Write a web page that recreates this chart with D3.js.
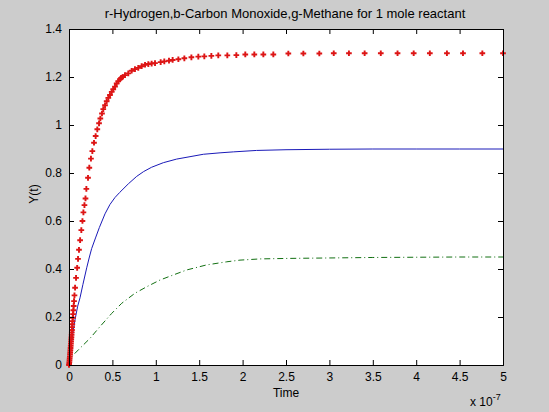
<!DOCTYPE html>
<html>
<head>
<meta charset="utf-8">
<script src="https://cdn.jsdelivr.net/npm/d3@7"></script>
<style>
  body { margin: 0; background: #cccccc; }
  svg text { font-family: "Liberation Sans", Arial, sans-serif; fill: #000; }
</style>
</head>
<body>
<div id="chart"></div>
<script>
// time in units of 1e-7
var hydrogenT = [0, 0.002, 0.004, 0.006, 0.008, 0.010, 0.012, 0.014, 0.016, 0.018, 0.020, 0.022, 0.024, 0.026, 0.028, 0.030, 0.032, 0.034, 0.036, 0.038, 0.041, 0.044, 0.047, 0.050, 0.054, 0.058, 0.063, 0.070, 0.081, 0.094, 0.104, 0.115, 0.128, 0.142, 0.155, 0.166, 0.178, 0.190, 0.200, 0.219, 0.234, 0.253, 0.269, 0.288, 0.307, 0.326, 0.346, 0.361, 0.380, 0.395, 0.415, 0.434, 0.453, 0.472, 0.492, 0.510, 0.530, 0.549, 0.568, 0.588, 0.600, 0.618, 0.645, 0.683, 0.722, 0.760, 0.798, 0.837, 0.876, 0.914, 0.952, 0.991, 1.056, 1.098, 1.152, 1.194, 1.260, 1.329, 1.410, 1.490, 1.559, 1.640, 1.720, 1.824, 1.928, 2.031, 2.135, 2.239, 2.354, 2.527, 2.700, 2.884, 3.050, 3.225, 3.406, 3.592, 3.785, 3.971, 4.157, 4.354, 4.539, 4.762, 5.000];
var hydrogenY = [0, 0.005, 0.012, 0.020, 0.028, 0.036, 0.045, 0.053, 0.062, 0.071, 0.080, 0.089, 0.098, 0.107, 0.116, 0.126, 0.136, 0.146, 0.158, 0.170, 0.183, 0.197, 0.212, 0.228, 0.246, 0.266, 0.290, 0.322, 0.363, 0.405, 0.442, 0.480, 0.520, 0.562, 0.600, 0.636, 0.666, 0.694, 0.734, 0.780, 0.822, 0.860, 0.891, 0.926, 0.954, 0.982, 1.007, 1.027, 1.048, 1.066, 1.082, 1.099, 1.113, 1.125, 1.138, 1.149, 1.160, 1.173, 1.183, 1.190, 1.196, 1.200, 1.208, 1.215, 1.226, 1.233, 1.238, 1.245, 1.251, 1.254, 1.256, 1.258, 1.262, 1.265, 1.268, 1.271, 1.274, 1.278, 1.282, 1.285, 1.286, 1.288, 1.290, 1.290, 1.291, 1.294, 1.294, 1.294, 1.294, 1.298, 1.298, 1.298, 1.299, 1.299, 1.299, 1.299, 1.299, 1.299, 1.299, 1.299, 1.299, 1.299, 1.299];

var coT = [0, 0.015, 0.031, 0.05, 0.069, 0.1, 0.127, 0.16, 0.204, 0.235, 0.261, 0.309, 0.35, 0.415, 0.472, 0.53, 0.584, 0.684, 0.78, 0.86, 0.952, 1.087, 1.24, 1.394, 1.548, 1.74, 1.893, 2.16, 2.5, 3.0, 3.5, 4.0, 4.5, 5.0];
var coY = [0, 0.045, 0.095, 0.145, 0.188, 0.245, 0.28, 0.335, 0.405, 0.45, 0.485, 0.533, 0.573, 0.630, 0.669, 0.698, 0.719, 0.755, 0.786, 0.806, 0.824, 0.843, 0.858, 0.868, 0.878, 0.884, 0.888, 0.894, 0.897, 0.899, 0.9, 0.9, 0.9, 0.9];

var methaneT = [0, 0.031, 0.127, 0.242, 0.357, 0.492, 0.607, 0.76, 0.895, 1.048, 1.2, 1.356, 1.585, 1.817, 1.97, 2.2, 2.5, 3.0, 3.5, 4.0, 4.5, 5.0];
var methaneY = [0, 0.035, 0.07, 0.111, 0.16, 0.215, 0.257, 0.299, 0.326, 0.354, 0.375, 0.396, 0.417, 0.43, 0.437, 0.442, 0.444, 0.446, 0.448, 0.449, 0.45, 0.45];

var xTicks = [0, 0.5, 1, 1.5, 2, 2.5, 3, 3.5, 4, 4.5, 5];
var yTicks = [0, 0.2, 0.4, 0.6, 0.8, 1, 1.2, 1.4];

var width = 549, height = 412;
var margin = {left: 69, right: 46, top: 29, bottom: 47};

var svg = d3.select("#chart").append("svg")
    .attr("width", width).attr("height", height);

svg.append("rect").attr("width", width).attr("height", height).attr("fill", "#cccccc");

var x = d3.scaleLinear().domain([0, 5]).range([margin.left, width - margin.right]);
var y = d3.scaleLinear().domain([0, 1.4]).range([height - margin.bottom, margin.top]);

svg.append("rect")
    .attr("x", x(0)).attr("y", y(1.4))
    .attr("width", x(5) - x(0)).attr("height", y(0) - y(1.4))
    .attr("fill", "#fff");

function zip(a, b) { return a.map(function(v, i) { return [v, b[i]]; }); }

var line = d3.line().x(function(d){ return x(d[0]); }).y(function(d){ return y(d[1]); });

svg.append("path").datum(zip(methaneT, methaneY))
    .attr("d", line).attr("fill", "none")
    .attr("stroke", "#127012").attr("stroke-width", 1)
    .attr("stroke-dasharray", "6,3,1,3");

svg.append("path").datum(zip(coT, coY))
    .attr("d", line).attr("fill", "none")
    .attr("stroke", "#1a1ab8").attr("stroke-width", 1);

var cross = d3.symbol().type(d3.symbolCross).size(18);
svg.selectAll(".h2").data(zip(hydrogenT, hydrogenY)).enter()
    .append("path").attr("class", "h2")
    .attr("transform", function(d){ return "translate(" + x(d[0]) + "," + y(d[1]) + ")"; })
    .attr("d", cross).attr("fill", "#dd1515");

// axes, ticks inward on all four sides (matlab box)
var noLabel = function() { return ""; };
var axBottom = d3.axisBottom(x).tickValues(xTicks).tickSize(-5).tickPadding(7)
    .tickFormat(d3.format("~g"));
var axLeft = d3.axisLeft(y).tickValues(yTicks).tickSize(-5).tickPadding(7)
    .tickFormat(d3.format("~g"));
var axTop = d3.axisTop(x).tickValues(xTicks).tickSize(-5).tickFormat(noLabel);
var axRight = d3.axisRight(y).tickValues(yTicks).tickSize(-5).tickFormat(noLabel);

[ [axBottom, 0, y(0)], [axLeft, x(0), 0], [axTop, 0, y(1.4)], [axRight, x(5), 0] ].forEach(function(a) {
    var g = svg.append("g").attr("transform", "translate(" + a[1] + "," + a[2] + ")").call(a[0]);
    g.select(".domain").attr("stroke", "#000");
    g.selectAll("line").attr("stroke", "#000");
    g.selectAll("text").attr("font-size", 12).attr("font-family", "Liberation Sans, Arial, sans-serif");
});

svg.append("text").attr("x", 285).attr("y", 18).attr("text-anchor", "middle")
    .attr("font-size", 13).text("r-Hydrogen,b-Carbon Monoxide,g-Methane for 1 mole reactant");

svg.append("text").attr("x", 286).attr("y", 397).attr("text-anchor", "middle")
    .attr("font-size", 12).text("Time");

svg.append("text").attr("transform", "translate(38,194) rotate(-90)").attr("text-anchor", "middle")
    .attr("font-size", 12).text("Y(t)");

var expo = svg.append("text").attr("x", 470).attr("y", 406).attr("font-size", 12);
expo.append("tspan").text("x 10");
expo.append("tspan").attr("dy", -6).attr("font-size", 9).text("-7");
</script>
</body>
</html>
